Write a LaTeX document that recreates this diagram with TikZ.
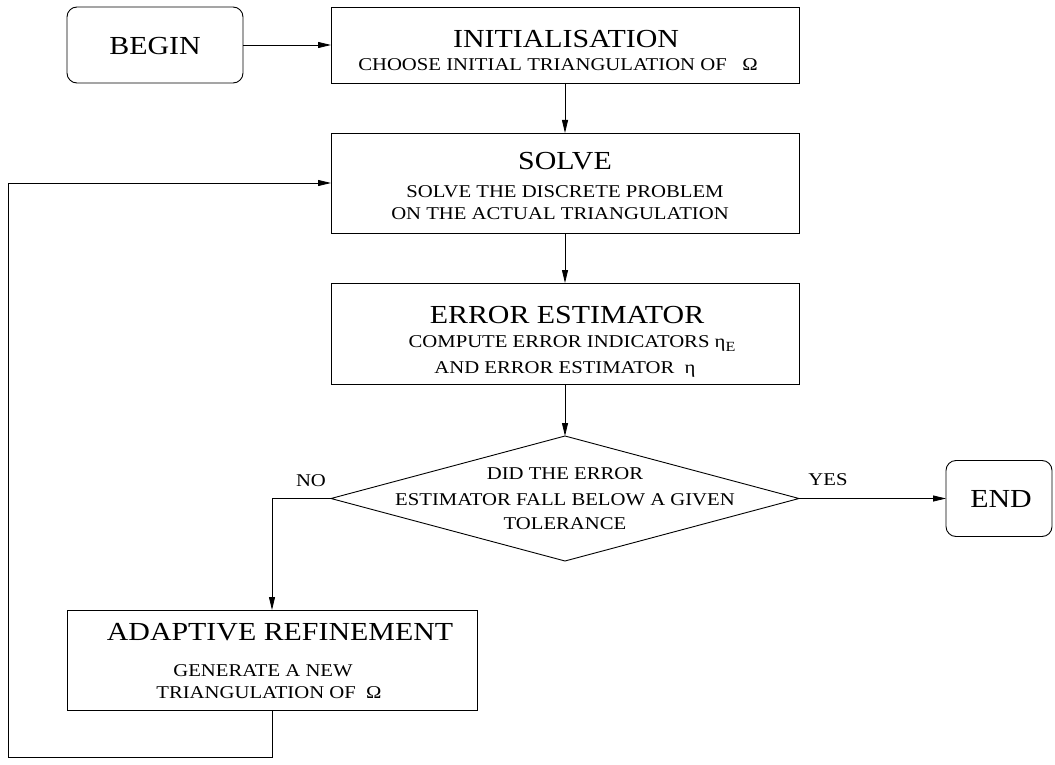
\documentclass[tikz,border=0pt]{standalone}
\usepackage{fontspec}
\setmainfont{Liberation Serif}[FakeStretch=1.15]
\usetikzlibrary{shapes.geometric,arrows.meta}
\tikzset{
  box/.style={draw, line width=0.9pt, inner sep=0pt, outer sep=0pt},
  term/.style={draw, rounded corners=10pt, line width=0.9pt, inner sep=0pt, outer sep=0pt},
  ttl/.style={font=\fontsize{26}{30}\selectfont, inner sep=0pt, text height=17pt, text depth=0pt},
  sub/.style={font=\fontsize{18}{21}\selectfont, inner sep=0pt, text height=12pt, text depth=0pt},
  arr/.style={-{Triangle[length=13pt,width=6pt]}, line width=0.8pt},
}
\newcommand{\etaE}{η\raisebox{-4pt}{\fontsize{14}{14}\selectfont E}}
\begin{document}
\begin{tikzpicture}[x=1pt,y=-1pt]
\useasboundingbox (0,0) rectangle (1055,765);
% boxes
\node[term, minimum width=176pt, minimum height=76pt] (begin) at (155,45) {};
\node[box, minimum width=468pt, minimum height=76pt] (init) at (565,45) {};
\node[box, minimum width=468pt, minimum height=100pt] (solve) at (565,183) {};
\node[box, minimum width=468pt, minimum height=101pt] (error) at (565,333.5) {};
\node[draw, diamond, line width=0.9pt, inner sep=0pt, outer sep=0pt, minimum width=468pt, minimum height=125pt] (dec) at (565,498.5) {};
\node[term, minimum width=106pt, minimum height=76pt] (end) at (999,498.5) {};
\node[box, minimum width=410pt, minimum height=100pt] (adapt) at (272,660) {};
% texts
\node[ttl] (tbegin) at (155,46) {BEGIN};
\node[ttl] (tinit) at (566,39) {INITIALISATION};
\node[sub] (sinit) at (558,65) {CHOOSE INITIAL TRIANGULATION OF\ \ \ Ω};
\node[ttl] (tsolve) at (565,161) {SOLVE};
\node[sub] (ssolve1) at (565,191) {SOLVE THE DISCRETE PROBLEM};
\node[sub] (ssolve2) at (560,213) {ON THE ACTUAL TRIANGULATION};
\node[ttl] (terror) at (567,315) {ERROR ESTIMATOR};
\node[sub] (serror1) at (572,341) {COMPUTE ERROR INDICATORS \etaE};
\node[sub] (serror2) at (565,367) {AND ERROR ESTIMATOR\ \ η};
\node[sub] (sdec1) at (565,473) {DID THE ERROR};
\node[sub] (sdec2) at (565,499) {ESTIMATOR FALL BELOW A GIVEN};
\node[sub] (sdec3) at (565,523) {TOLERANCE};
\node[sub] (lno) at (311,480) {NO};
\node[sub] (lyes) at (828,479) {YES};
\node[ttl] (tend) at (1001,499) {END};
\node[ttl] (tadapt) at (280,632) {ADAPTIVE REFINEMENT};
\node[sub] (sadapt1) at (263,670) {GENERATE A NEW};
\node[sub] (sadapt2) at (269,692) {TRIANGULATION OF\ \ Ω};
% connectors
\coordinate (lb) at (8,757);
\draw[arr] (begin.east) -- (init.west);
\draw[arr] (init.south) -- (solve.north);
\draw[arr] (solve.south) -- (error.north);
\draw[arr] (error.south) -- (dec.north);
\draw[arr] (dec.east) -- (end.west);
\draw[arr] (dec.west) -| (adapt.north);
\draw[arr] (adapt.south) |- (lb) |- (solve.west);
\end{tikzpicture}
\end{document}
